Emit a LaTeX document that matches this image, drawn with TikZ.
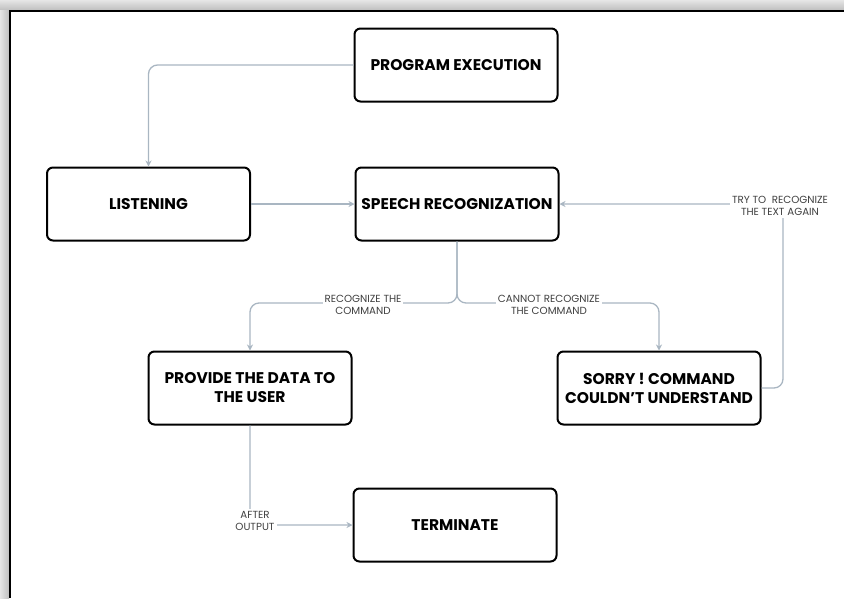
\documentclass[tikz,border=0pt]{standalone}
\usepackage{fontspec}
\setmainfont{Poppins}
\usetikzlibrary{arrows.meta,positioning}
\definecolor{linkgray}{HTML}{A9B6C2}
\definecolor{labelgray}{HTML}{404040}
\tikzset{stepbox/.style={draw=black, line width=2pt, rounded corners=6pt, fill=white,
  minimum width=203pt, minimum height=73pt, align=center, font=\bfseries\fontsize{15.5}{19}\selectfont}}
\tikzset{link/.style={draw=linkgray, line width=1.3pt, rounded corners=9pt, -{Stealth[length=6pt,width=6pt]}}}
\tikzset{note/.style={fill=white, inner sep=2pt, align=center, text=labelgray, font=\fontsize{10.3}{12.5}\selectfont}}
\begin{document}
\begin{tikzpicture}[x=1pt,y=-1pt]
\useasboundingbox (0,0) rectangle (844,598);
% frame with shadow
\shade[top color=gray!20, bottom color=gray!50] (0,0) rectangle (844,10);
\shade[left color=gray!20, right color=gray!50] (0,10) rectangle (9,598);
\draw[line width=2.6pt] (10,598) -- (10,11) -- (844,11);

% steps
\node[stepbox] (prog) at (456,65) {PROGRAM EXECUTION};
\node[stepbox] (listen) at (148.5,204) {LISTENING};
\node[stepbox] (speech) at (457,204) {SPEECH RECOGNIZATION};
\node[stepbox] (provide) at (250,388) {PROVIDE THE DATA TO\\THE USER};
\node[stepbox] (sorry) at (659,388) {SORRY ! COMMAND\\COULDN'T UNDERSTAND};
\node[stepbox] (terminate) at (455,525) {TERMINATE};

% helper points
\coordinate (split) at (457,303);
\coordinate (retry) at (783,204);

% connectors
\draw[link] (prog.west) -| (listen.north);
\draw[link] (listen.east) -- (speech.west);
\draw[link] (speech.south) |- (provide.north |- split) -- (provide.north);
\draw[link] (speech.south) |- (sorry.north |- split) -- (sorry.north);
\draw[link] (sorry.east) -| (retry) -- (speech.east);
\draw[link] (provide.south) |- (terminate.west);

% labels on connectors
\node[note] (lblyes) at (363,305) {RECOGNIZE THE\\COMMAND};
\node[note] (lblno) at (549,305) {CANNOT RECOGNIZE\\THE COMMAND};
\node[note] (lblretry) at (780,206) {TRY TO\ \ RECOGNIZE\\THE TEXT AGAIN};
\node[note] (lblafter) at (255,521) {AFTER\\OUTPUT};
\end{tikzpicture}
\end{document}
